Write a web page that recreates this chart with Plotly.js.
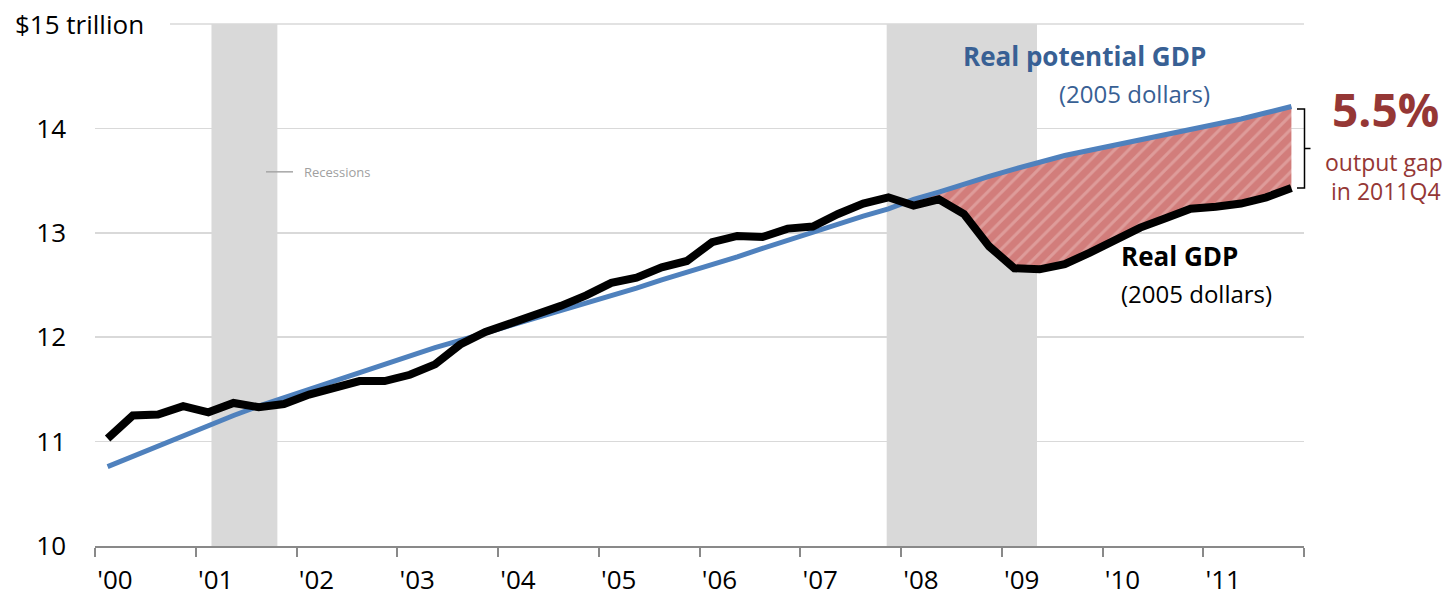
<!DOCTYPE html>
<html>
<head>
<meta charset="utf-8">
<script src="https://cdn.plot.ly/plotly-3.0.1.min.js"></script>
<style>
html,body{margin:0;padding:0;background:#fff;}
#chart{width:1446px;height:600px;}
</style>
</head>
<body>
<div id="chart"></div>
<script>
// ---- data ----
const years = [2000, 2001, 2002, 2003, 2004, 2005, 2006, 2007, 2008, 2009, 2010, 2011];
const quarterNames = ["Q1", "Q2", "Q3", "Q4"];
const yearTickLabels = ["'00", "'01", "'02", "'03", "'04", "'05", "'06", "'07", "'08", "'09", "'10", "'11", ""];
const yTickVals = [10, 11, 12, 13, 14];
const topLabel = "$15 trillion";

// Real GDP, trillions of 2005 dollars, 2000Q1 .. 2011Q4
const realGDP = [
  11.03, 11.25, 11.26, 11.34,
  11.28, 11.37, 11.33, 11.36,
  11.45, 11.51, 11.58, 11.58,
  11.64, 11.74, 11.93, 12.05,
  12.13, 12.21, 12.30, 12.40,
  12.52, 12.57, 12.67, 12.73,
  12.91, 12.97, 12.96, 13.04,
  13.06, 13.18, 13.28, 13.34,
  13.26, 13.32, 13.18, 12.87,
  12.66, 12.65, 12.70, 12.81,
  12.93, 13.05, 13.14, 13.23,
  13.25, 13.28, 13.34, 13.43
];
// Real potential GDP, trillions of 2005 dollars
const potentialGDP = [
  10.76, 10.86, 10.96, 11.05,
  11.15, 11.25, 11.34, 11.42,
  11.50, 11.58, 11.67, 11.75,
  11.83, 11.90, 11.97, 12.04,
  12.11, 12.19, 12.26, 12.33,
  12.40, 12.47, 12.55, 12.62,
  12.69, 12.77, 12.85, 12.93,
  13.00, 13.08, 13.16, 13.23,
  13.32, 13.39, 13.47, 13.54,
  13.61, 13.68, 13.74, 13.79,
  13.84, 13.89, 13.94, 13.99,
  14.03, 14.09, 14.15, 14.21
];
// recession periods (decimal years)
const recessionStart = [2001.156, 2007.858];
const recessionEnd   = [2001.81, 2009.35];
const gapStartIndex = 32; // 2008Q1
const gapLabel = "5.5%";

// ---- build ----
const quarterX = [];
const quarterLabels = [];
years.forEach(y => quarterNames.forEach((q, i) => {
  quarterX.push(y + (i + 0.5) / 4);
  quarterLabels.push(y + q);
}));

const blue = '#4F81BD';
const blueText = '#386094';
const redText = '#953735';

const gapX = quarterX.slice(gapStartIndex);
const traces = [
  {x: gapX, y: potentialGDP.slice(gapStartIndex), mode: 'lines', line: {width: 0, color: 'rgba(0,0,0,0)'}, hoverinfo: 'skip', showlegend: false},
  {x: gapX, y: realGDP.slice(gapStartIndex), mode: 'lines', line: {width: 0, color: 'rgba(0,0,0,0)'}, fill: 'tonexty',
   fillcolor: '#D27D7B',
   fillpattern: {shape: '/', bgcolor: '#D27D7B', fgcolor: '#DE9C9A', size: 10, solidity: 0.3},
   hoverinfo: 'skip', showlegend: false},
  {x: quarterX, y: potentialGDP, text: quarterLabels, mode: 'lines', name: 'Real potential GDP', line: {color: blue, width: 5}},
  {x: quarterX, y: realGDP, text: quarterLabels, mode: 'lines', name: 'Real GDP', line: {color: '#000', width: 8}}
];

const yMin = 10, yMax = 15;
const yp = v => (v - yMin) / (yMax - yMin);
const plotL = 95, plotW = 1209;
const xp = px => (px - plotL) / plotW;

const shapes = [];
recessionStart.forEach((s, i) => {
  shapes.push({type: 'rect', xref: 'x', yref: 'y', x0: s, x1: recessionEnd[i], y0: yMin, y1: yMax,
    fillcolor: '#D9D9D9', line: {width: 0}, layer: 'between'});
});
// top gridline (15) starting after the unit label
shapes.push({type: 'line', xref: 'paper', yref: 'paper', x0: xp(170), x1: 1, y0: 1, y1: 1,
  line: {color: '#D9D9D9', width: 1.5}, layer: 'below'});
// recession legend mark
shapes.push({type: 'line', xref: 'paper', yref: 'paper', x0: xp(266), x1: xp(293), y0: yp(13.584), y1: yp(13.584),
  line: {color: '#A6A6A6', width: 1.5}});
// bracket for the output gap
const potLast = potentialGDP[potentialGDP.length - 1];
const realLast = realGDP[realGDP.length - 1];
const bTop = yp(potLast - 0.025), bBot = yp(realLast), bMid = (bTop + bBot) / 2;
const bx = xp(1304.5), bxl = xp(1297), bxr = xp(1310.5);
shapes.push({type: 'path', xref: 'paper', yref: 'paper',
  path: `M ${bxl},${bTop} L ${bx},${bTop} L ${bx},${bBot} L ${bxl},${bBot} M ${bx},${bMid} L ${bxr},${bMid}`,
  line: {color: '#000', width: 1.5}});

const F = '"Open Sans", "Noto Sans", sans-serif';
const annotations = [
  {text: topLabel, xref: 'paper', yref: 'paper', x: xp(13), y: 1, xanchor: 'left', yanchor: 'middle',
   showarrow: false, font: {family: F, size: 26, color: '#000'}},
  {text: 'Recessions', xref: 'paper', yref: 'paper', x: xp(302), y: yp(13.584), xanchor: 'left', yanchor: 'middle',
   showarrow: false, font: {family: F, size: 13, color: '#A0A0A0'}},
  {text: '<b>Real potential GDP</b>', xref: 'paper', yref: 'paper', x: xp(1208), y: yp(14.69), xanchor: 'right', yanchor: 'middle',
   showarrow: false, font: {family: F, size: 26, color: blueText}},
  {text: '(2005 dollars)', xref: 'paper', yref: 'paper', x: xp(1212), y: yp(14.33), xanchor: 'right', yanchor: 'middle',
   showarrow: false, font: {family: F, size: 24, color: blueText}},
  {text: '<b>Real GDP</b>', xref: 'paper', yref: 'paper', x: xp(1119), y: yp(12.776), xanchor: 'left', yanchor: 'middle',
   showarrow: false, font: {family: F, size: 26, color: '#000'}},
  {text: '(2005 dollars)', xref: 'paper', yref: 'paper', x: xp(1119), y: yp(12.42), xanchor: 'left', yanchor: 'middle',
   showarrow: false, font: {family: F, size: 24, color: '#000'}},
  {text: '<b>' + gapLabel + '</b>', xref: 'paper', yref: 'paper', x: xp(1385), y: yp(14.185), xanchor: 'center', yanchor: 'middle',
   showarrow: false, font: {family: F, size: 46, color: redText}},
  {text: 'output gap', xref: 'paper', yref: 'paper', x: xp(1384), y: yp(13.676), xanchor: 'center', yanchor: 'middle',
   showarrow: false, font: {family: F, size: 23, color: redText}},
  {text: 'in 2011Q4', xref: 'paper', yref: 'paper', x: xp(1386), y: yp(13.40), xanchor: 'center', yanchor: 'middle',
   showarrow: false, font: {family: F, size: 23, color: redText}}
];

const tickYears = years.concat([years[years.length - 1] + 1]);
const layout = {
  width: 1446, height: 600,
  margin: {l: 95, r: 142, t: 24, b: 54, pad: 0},
  paper_bgcolor: '#fff', plot_bgcolor: '#fff',
  showlegend: false,
  font: {family: F, size: 26, color: '#000'},
  xaxis: {range: [tickYears[0], tickYears[tickYears.length - 1]], tickvals: tickYears, ticktext: yearTickLabels,
    showgrid: false, zeroline: false, showline: true, linecolor: '#898989', linewidth: 2,
    ticks: 'outside', ticklen: 9, tickwidth: 2, tickcolor: '#898989', ticklabelshift: 20, ticklabelstandoff: 1,
    tickfont: {family: F, size: 26, color: '#000'}, fixedrange: true},
  yaxis: {range: [yMin, yMax], tickvals: yTickVals, ticktext: yTickVals.map(String),
    showgrid: true, gridcolor: '#D9D9D9', gridwidth: 1.5, zeroline: false, showline: false,
    ticks: '', ticklabelstandoff: 28, tickfont: {family: F, size: 26, color: '#000'}, fixedrange: true},
  shapes: shapes,
  annotations: annotations
};

Plotly.newPlot('chart', traces, layout, {displayModeBar: false, staticPlot: true});
</script>
</body>
</html>
